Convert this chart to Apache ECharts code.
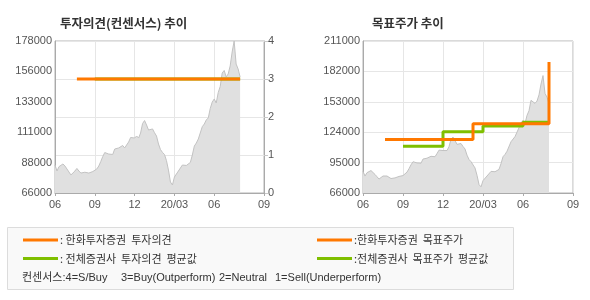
<!DOCTYPE html>
<html>
<head>
<meta charset="utf-8">
<script src="https://cdn.jsdelivr.net/npm/echarts@6/dist/echarts.min.js"></script>
<style>
html,body{margin:0;padding:0;background:#fff;}
#c{width:590px;height:300px;}
</style>
</head>
<body>
<div id="c"></div>
<script>
// ---- data ----
const categoryCount = 106;
const categories = Array.from({length: categoryCount}, (_, i) => String(i));
const xTickIndex = [0, 20, 40, 60, 80, 105];
const xTickLabels = ['06', '09', '12', '20/03', '06', '09'];

const price = [
  86600, 82200, 85400, 84100, 87400, 85900, 83700, 81500, 79300, 80000,
  82200, 84100, 82200, 80700, 79800, 81300, 80400, 80700, 81800, 81800,
  82600, 83700, 85900, 89200, 92900, 95800, 95500, 94700, 93800, 94400,
  98400, 98900, 99200, 99900, 101000, 99200, 100600, 103600, 106900, 106200,
  106500, 108000, 106500, 110200, 117200, 119400, 116100, 112400, 113500, 113200,
  110400, 108000, 102100, 98000, 95900, 94400, 89900, 82900, 74100, 71900,
  77800, 78900, 82200, 82200, 86600, 85200, 86300, 87100, 88500, 94000,
  100600, 102800, 105800, 105100, 114900, 116800, 119800, 121300, 128300, 133000,
  135300, 132300, 140000, 144500, 154400, 156300, 151500, 153700, 159600, 169900,
  178000, 161000, 157400, 151500
];

const leftPriceTicks = ['66000', '88000', '111000', '133000', '156000', '178000'];
const rightPriceTicks = ['66000', '95000', '124000', '153000', '182000', '211000'];
const opinionTicks = ['0', '1', '2', '3', '4'];

// [start index, value] change points
const hanwhaOpinionSteps = [[11, 3]];
const consensusOpinionSteps = [[20, 3]];
const hanwhaTargetSteps = [[11, 117000], [55, 132000], [93, 191000]];
const consensusTargetSteps = [[20, 110500], [40, 124500], [60, 130000], [80, 133500]];

const legendLabels = [': 한화투자증권  투자의견', ': 전체증권사  투자의견  평균값', ':한화투자증권  목표주가', ':전체증권사  목표주가  평균값'];
const consensusNoteParts = ['컨센서스:4=S/Buy', '3=Buy(Outperform)', '2=Neutral', '1=Sell(Underperform)'];

const ORANGE = '#ff7800';
const GREEN = '#7fbf00';

// ---- build ----
const lastIndex = price.length - 1;
function stepsToData(steps) {
  const out = [];
  for (let i = 0; i <= lastIndex; i++) {
    let v = null;
    for (const s of steps) if (s[0] <= i) v = s[1];
    out.push(v);
  }
  return out;
}
const isTick = (idx) => xTickIndex.indexOf(idx) >= 0;
const txt = {color: '#555', fontSize: 11, fontFamily: 'Liberation Sans, Arial, sans-serif'};

function xAxisFor(g) {
  return {
    type: 'category', gridIndex: g, data: categories, boundaryGap: false,
    axisLine: {show: true, lineStyle: {color: '#aaaaaa'}},
    axisTick: {show: true, length: 3, inside: false, interval: (i) => isTick(i), lineStyle: {color: '#aaaaaa'}},
    axisLabel: Object.assign({interval: (i) => isTick(i), margin: 6,
      formatter: (v, i) => { const k = xTickIndex.indexOf(Number(v)); return k >= 0 ? xTickLabels[k] : ''; },
      showMinLabel: true, showMaxLabel: true, hideOverlap: false}, txt),
    splitLine: {show: true, interval: (i) => isTick(i), lineStyle: {color: '#e6e6e6'}}
  };
}

const legendText = (x, y, s, fam) => ({type: 'text', x: x, y: y,
  style: {text: s, fill: '#333', fontSize: 11, fontFamily: fam || 'Noto Sans CJK KR', verticalAlign: 'middle'}});
const NOTE_FONT = '"Liberation Sans", "Noto Sans CJK KR", sans-serif';

const chart = echarts.init(document.getElementById('c'), null, {renderer: 'canvas'});
const option = {
  animation: false,
  backgroundColor: '#fff',
  title: [
    {text: '투자의견(컨센서스) 추이', left: 55, top: 12,
     textStyle: {fontSize: 12.5, fontWeight: 'bold', color: '#333', fontFamily: 'Noto Sans CJK KR'}},
    {text: '목표주가 추이', left: 367, top: 12,
     textStyle: {fontSize: 12.5, fontWeight: 'bold', color: '#333', fontFamily: 'Noto Sans CJK KR'}}
  ],
  grid: [
    {left: 55, top: 41, width: 209, height: 152, show: true, borderColor: '#b4b4b4', borderWidth: 1},
    {left: 363, top: 41, width: 210, height: 152, show: true, borderColor: '#b4b4b4', borderWidth: 1}
  ],
  xAxis: [xAxisFor(0), xAxisFor(1)],
  yAxis: [
    {type: 'value', gridIndex: 0, min: 66000, max: 178000, show: false},
    {type: 'value', gridIndex: 0, min: 0, max: 4, interval: 1, position: 'right',
     axisLine: {show: true, lineStyle: {color: '#aaaaaa'}},
     axisTick: {show: true, length: 4, lineStyle: {color: '#c8c8c8'}},
     axisLabel: Object.assign({margin: 4, formatter: (v) => opinionTicks[v]}, txt),
     splitLine: {show: true, lineStyle: {color: '#e6e6e6'}}},
    {type: 'value', gridIndex: 0, min: 0, max: 5, interval: 1, position: 'left',
     axisLine: {show: true, lineStyle: {color: '#aaaaaa'}},
     axisTick: {show: false},
     axisLabel: Object.assign({margin: 3, formatter: (v) => leftPriceTicks[v]}, txt),
     splitLine: {show: false}},
    {type: 'value', gridIndex: 1, min: 66000, max: 211000, show: false},
    {type: 'value', gridIndex: 1, min: 0, max: 5, interval: 1, position: 'left',
     axisLine: {show: true, lineStyle: {color: '#aaaaaa'}},
     axisTick: {show: false},
     axisLabel: Object.assign({margin: 3, formatter: (v) => rightPriceTicks[v]}, txt),
     splitLine: {show: true, lineStyle: {color: '#e6e6e6'}}}
  ],
  series: [
    {type: 'line', xAxisIndex: 0, yAxisIndex: 0, data: price, symbol: 'none', z: 1,
     lineStyle: {color: '#c2c2c2', width: 1}, areaStyle: {color: '#e0e0e0', opacity: 1, origin: 'start'}},
    {type: 'line', xAxisIndex: 0, yAxisIndex: 1, data: stepsToData(consensusOpinionSteps), symbol: 'none', step: 'end', z: 3,
     lineStyle: {color: GREEN, width: 3}},
    {type: 'line', xAxisIndex: 0, yAxisIndex: 1, data: stepsToData(hanwhaOpinionSteps), symbol: 'none', step: 'end', z: 4,
     lineStyle: {color: ORANGE, width: 3}},
    {type: 'line', xAxisIndex: 1, yAxisIndex: 3, data: price, symbol: 'none', z: 1,
     lineStyle: {color: '#c2c2c2', width: 1}, areaStyle: {color: '#e0e0e0', opacity: 1, origin: 'start'}},
    {type: 'line', xAxisIndex: 1, yAxisIndex: 3, data: stepsToData(consensusTargetSteps), symbol: 'none', step: 'end', z: 3,
     lineStyle: {color: GREEN, width: 3}},
    {type: 'line', xAxisIndex: 1, yAxisIndex: 3, data: stepsToData(hanwhaTargetSteps), symbol: 'none', step: 'end', z: 4,
     lineStyle: {color: ORANGE, width: 3}}
  ],
  graphic: [
    {type: 'rect', shape: {x: 7.5, y: 227.5, width: 506, height: 62}, style: {fill: '#f9f9f9', stroke: '#dcdcdc', lineWidth: 1}, z: 0},
    {type: 'line', shape: {x1: 23, y1: 240, x2: 58, y2: 240}, style: {stroke: ORANGE, lineWidth: 3}},
    {type: 'line', shape: {x1: 23, y1: 258.5, x2: 58, y2: 258.5}, style: {stroke: GREEN, lineWidth: 3}},
    {type: 'line', shape: {x1: 317, y1: 240, x2: 352, y2: 240}, style: {stroke: ORANGE, lineWidth: 3}},
    {type: 'line', shape: {x1: 317, y1: 258.5, x2: 352, y2: 258.5}, style: {stroke: GREEN, lineWidth: 3}},
    legendText(60, 240, legendLabels[0]),
    legendText(60, 258.5, legendLabels[1]),
    legendText(354, 240, legendLabels[2]),
    legendText(354, 258.5, legendLabels[3]),
    legendText(22, 277.5, consensusNoteParts[0], NOTE_FONT),
    legendText(121, 277.5, consensusNoteParts[1], NOTE_FONT),
    legendText(219, 277.5, consensusNoteParts[2], NOTE_FONT),
    legendText(275, 277.5, consensusNoteParts[3], NOTE_FONT)
  ]
};
chart.setOption(option);
</script>
</body>
</html>
